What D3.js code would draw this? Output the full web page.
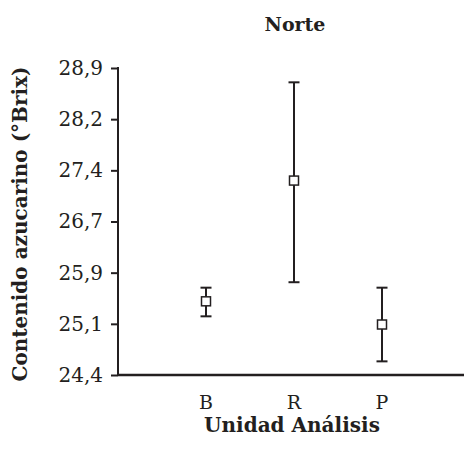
<!DOCTYPE html>
<html>
<head>
<meta charset="utf-8">
<script src="https://cdn.jsdelivr.net/npm/d3@7"></script>
<style>
  body { margin: 0; background: #fff; }
  text { font-family: "DejaVu Serif", "Liberation Serif", serif; fill: #231f20; }
</style>
</head>
<body>
<svg width="465" height="455"></svg>
<script>
const width = 465;
const height = 455;

// Data
const categories = ["B", "R", "P"];
const means = [25.48, 27.25, 25.14];
const upper = [25.68, 28.69, 25.68];
const lower = [25.26, 25.76, 24.60];
const tickValues = [24.4, 25.15, 25.9, 26.65, 27.4, 28.15, 28.9];
const tickLabels = ["24,4", "25,1", "25,9", "26,7", "27,4", "28,2", "28,9"];

const svg = d3.select("svg");
const ink = "#231f20";

// Scales
const x = d3.scaleLinear().domain([0, 4]).range([118, 470]);
const y = d3.scaleLinear().domain([24.4, 28.9]).range([375, 68]);

// Y axis
const yAxis = svg.append("g")
  .attr("transform", "translate(118,0)")
  .call(d3.axisLeft(y).tickValues(tickValues).tickSize(7).tickPadding(8)
    .tickFormat((d, i) => tickLabels[i]));
yAxis.select(".domain").remove();
yAxis.selectAll("line").attr("stroke", ink).attr("stroke-width", 2);
yAxis.selectAll("text").attr("font-size", 20).attr("fill", ink)
  .style("font-family", "DejaVu Serif");
svg.append("line")
  .attr("x1", 118).attr("x2", 118)
  .attr("y1", y(28.9) - 1).attr("y2", y(24.4))
  .attr("stroke", ink).attr("stroke-width", 2);

// X axis
svg.append("line")
  .attr("x1", 118).attr("x2", 464)
  .attr("y1", y(24.4)).attr("y2", y(24.4))
  .attr("stroke", ink).attr("stroke-width", 2.5);
svg.append("g")
  .selectAll("text")
  .data(categories)
  .enter()
  .append("text")
  .attr("x", (d, i) => x(i + 1))
  .attr("y", 409)
  .attr("text-anchor", "middle")
  .attr("font-size", 19)
  .text(d => d);

// Error bars
const bars = svg.append("g")
  .selectAll("g")
  .data(categories.map((c, i) => ({ c, i, m: means[i], hi: upper[i], lo: lower[i] })))
  .enter()
  .append("g");
bars.append("line")
  .attr("x1", d => x(d.i + 1)).attr("x2", d => x(d.i + 1))
  .attr("y1", d => y(d.hi)).attr("y2", d => y(d.lo))
  .attr("stroke", ink).attr("stroke-width", 2);
bars.append("line")
  .attr("x1", d => x(d.i + 1) - 5.5).attr("x2", d => x(d.i + 1) + 5.5)
  .attr("y1", d => y(d.hi)).attr("y2", d => y(d.hi))
  .attr("stroke", ink).attr("stroke-width", 2);
bars.append("line")
  .attr("x1", d => x(d.i + 1) - 5.5).attr("x2", d => x(d.i + 1) + 5.5)
  .attr("y1", d => y(d.lo)).attr("y2", d => y(d.lo))
  .attr("stroke", ink).attr("stroke-width", 2);
bars.append("rect")
  .attr("x", d => x(d.i + 1) - 4.5)
  .attr("y", d => y(d.m) - 4.5)
  .attr("width", 9).attr("height", 9)
  .attr("fill", "#fff")
  .attr("stroke", ink).attr("stroke-width", 1.5);

// Title and axis labels
svg.append("text")
  .attr("x", 295).attr("y", 31)
  .attr("text-anchor", "middle")
  .attr("font-size", 19).attr("font-weight", "bold")
  .text("Norte");
svg.append("text")
  .attr("x", 292).attr("y", 432)
  .attr("text-anchor", "middle")
  .attr("font-size", 20).attr("font-weight", "bold")
  .text("Unidad Análisis");
svg.append("text")
  .attr("transform", "translate(27,224) rotate(-90)")
  .attr("text-anchor", "middle")
  .attr("font-size", 20).attr("font-weight", "bold")
  .text("Contenido azucarino (°Brix)");
</script>
</body>
</html>
